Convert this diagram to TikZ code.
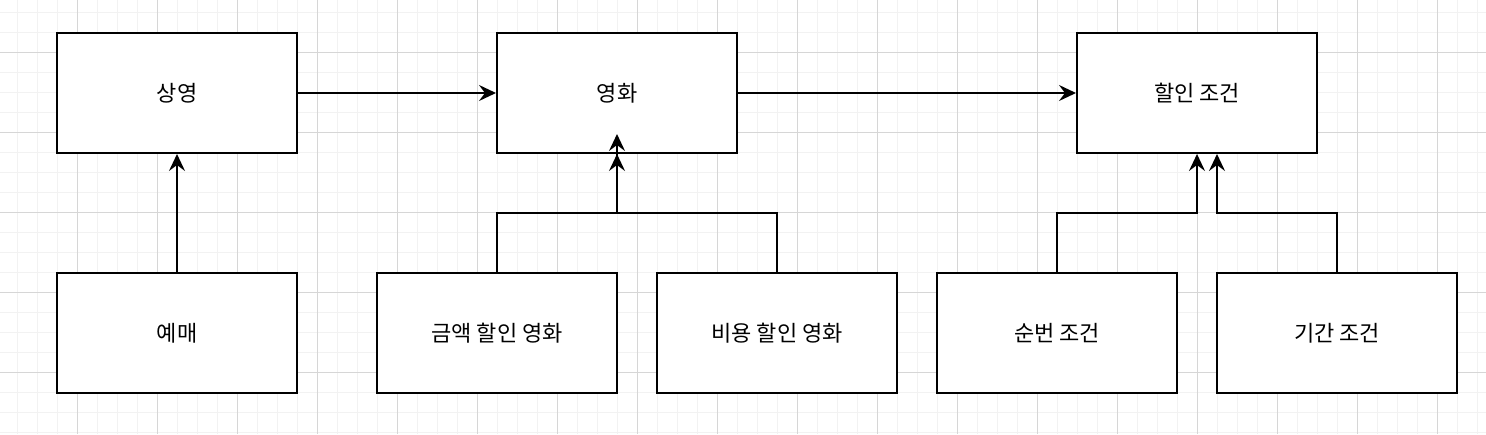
\documentclass[tikz,border=0pt]{standalone}
\usepackage{fontspec}
\newfontfamily\kr{Noto Sans CJK KR}
\usetikzlibrary{arrows.meta}
\definecolor{gridminor}{HTML}{F2F2F2}
\definecolor{gridmajor}{HTML}{D6D6D6}
\tikzset{
  box/.style={draw=black, line width=2pt, fill=white, minimum width=240pt, minimum height=120pt, inner sep=0pt, font=\kr\fontsize{22}{26}\selectfont},
  conn/.style={draw=black, line width=2pt, -{Stealth[length=17pt,width=16pt,inset=6pt]}},
}
\begin{document}
\begin{tikzpicture}[x=1pt,y=-1pt]
\useasboundingbox (0,0) rectangle (1486,434);
\fill[white] (0,0) rectangle (1486,434);
\foreach \x in {17,37,...,1477} \draw[gridminor, line width=1pt] (\x,0) -- (\x,434);
\foreach \y in {12,32,...,432} \draw[gridminor, line width=1pt] (0,\y) -- (1486,\y);
\foreach \x in {77,157,...,1477} \draw[gridmajor, line width=1pt] (\x,0) -- (\x,434);
\foreach \y in {52,132,...,432} \draw[gridmajor, line width=1pt] (0,\y) -- (1486,\y);

\node[box] (sy) at (177,93) {상영};
\node[box] (yh) at (617,93) {영화};
\node[box] (hj) at (1197,93) {할인 조건};
\node[box] (ym) at (177,333) {예매};
\node[box] (gh) at (497,333) {금액 할인 영화};
\node[box] (bh) at (777,333) {비용 할인 영화};
\node[box] (sb) at (1057,333) {순번 조건};
\node[box] (gj) at (1337,333) {기간 조건};

\coordinate (yhin) at ([yshift=20pt]yh.south);
\coordinate (hjl) at (hj.south);
\coordinate (hjr) at ([xshift=20pt]hj.south);
\draw[conn] (sy.east) -- (yh.west);
\draw[conn] (yh.east) -- (hj.west);
\draw[conn] (ym.north) -- (sy.south);
\draw[conn] (gh.north) |- (617,213) -- (yh.south);
\draw[conn] (bh.north) |- (617,213) -- (yhin);
\draw[conn] (sb.north) |- (hjl |- 0,213) -- (hjl);
\draw[conn] (gj.north) |- (hjr |- 0,213) -- (hjr);
\end{tikzpicture}
\end{document}
